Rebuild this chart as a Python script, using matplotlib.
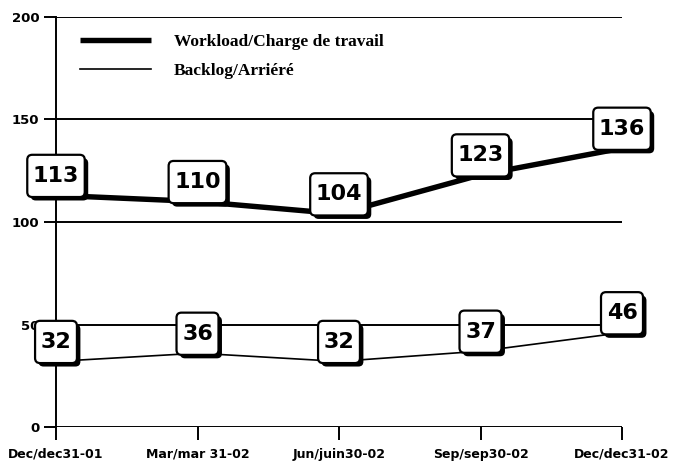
import matplotlib
matplotlib.use("Agg")
import matplotlib.pyplot as plt
import matplotlib.patheffects as pe
from matplotlib.patches import BoxStyle

categories = ["Dec/dec31-01", "Mar/mar 31-02", "Jun/juin30-02", "Sep/sep30-02", "Dec/dec31-02"]
workload = [113, 110, 104, 123, 136]
backlog = [32, 36, 32, 37, 46]
yticks = [0, 50, 100, 150, 200]

fig = plt.figure(figsize=(6.75, 4.65), dpi=100)
ax = fig.add_axes([56/675, 1-427/465, 566/675, 410/465])

x = list(range(len(categories)))
ax.plot(x, workload, color="black", lw=3.9, solid_capstyle="butt", label="Workload/Charge de travail", zorder=3)
ax.plot(x, backlog, color="black", lw=1.2, label="Backlog/Arriéré", zorder=3)

for yv in yticks:
    ax.axhline(yv, color="black", lw=1.4, zorder=1)

ax.set_xlim(0, len(categories)-1)
ax.set_ylim(0, 200)
ax.set_yticks(yticks)
ax.set_yticklabels([str(v) for v in yticks], fontfamily="DejaVu Sans", fontweight="bold", fontsize=9.5)
ax.set_xticks(x)
ax.set_xticklabels(categories, fontfamily="DejaVu Sans", fontweight="bold", fontsize=9)
ax.tick_params(axis="both", direction="out", length=9, width=1.4, color="black")
ax.tick_params(axis="x", pad=6)
ax.tick_params(axis="y", pad=3)
for s in ["top", "right", "bottom"]:
    ax.spines[s].set_visible(False)
ax.spines["left"].set_linewidth(1.4)

_round = BoxStyle.Round(pad=0, rounding_size=5)

def labelbox(x0, y0, width, height, mutation_size):
    px = 0.25 * mutation_size
    py = 0.5 * mutation_size
    return _round(x0 - px, y0 - py, width + 2 * px, height + 2 * py, 1)

def label(xv, yv):
    t = ax.annotate(str(yv), (xv, yv), xytext=(0, 14), textcoords="offset points",
                    ha="center", va="center", fontsize=16, fontfamily="DejaVu Sans",
                    fontweight="bold", color="black", zorder=5, annotation_clip=False,
                    bbox=dict(boxstyle=labelbox, fc="white", ec="black", lw=1.6))
    t.get_bbox_patch().set_path_effects([pe.SimplePatchShadow(offset=(2.5, -2.5), shadow_rgbFace="black", alpha=1.0), pe.Normal()])

for xi, v in zip(x, workload):
    label(xi, v)
for xi, v in zip(x, backlog):
    label(xi, v)

leg = ax.legend(loc="upper left", bbox_to_anchor=(0.042, 0.958), frameon=False,
                prop={"family": "Liberation Serif", "weight": "bold", "size": 12.5},
                handlelength=4.1, handletextpad=1.3, labelspacing=0.72, borderpad=0, borderaxespad=0)

fig.savefig("out.png", dpi=100)
